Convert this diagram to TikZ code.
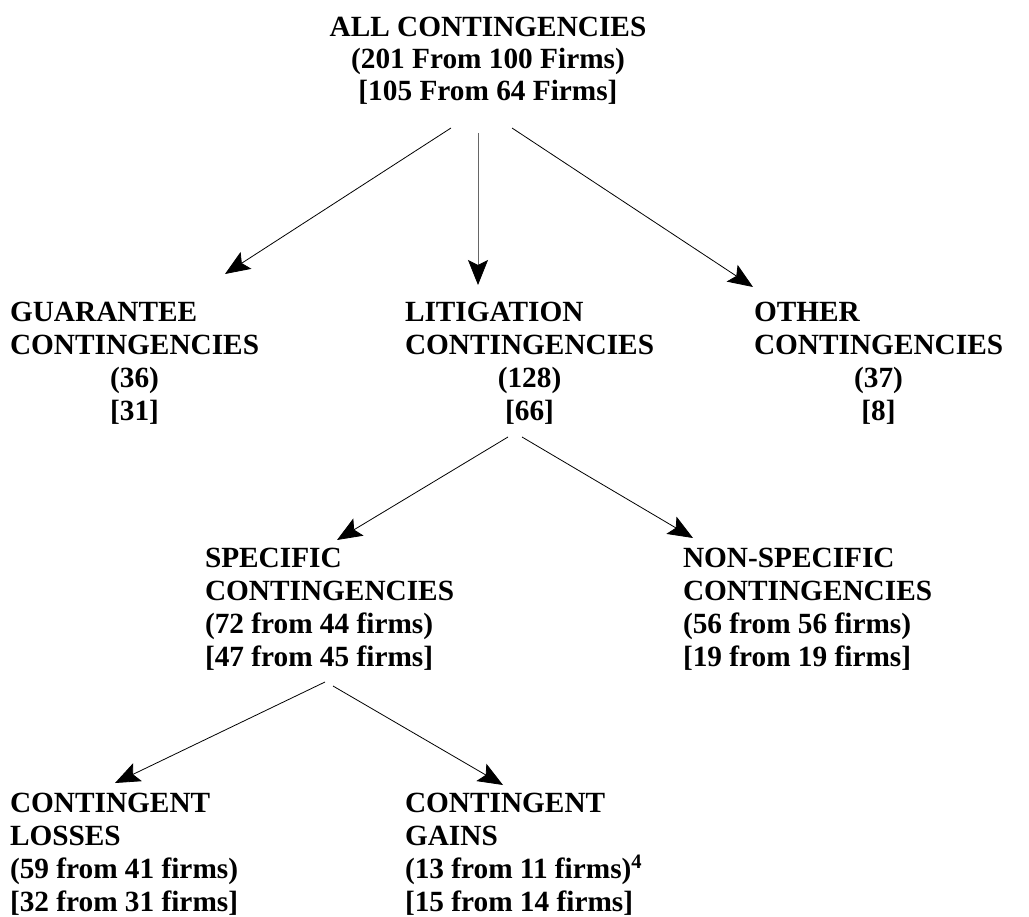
\documentclass[tikz,border=0pt]{standalone}
\usepackage{fontspec}
\setmainfont{Liberation Serif}
\usetikzlibrary{arrows.meta}
\newcommand\mcen[1]{\multicolumn{1}{@{}c@{}}{#1}}
\tikzset{
  lbl/.style={inner sep=0pt, outer sep=0pt, anchor=base west, font=\fontsize{29.3}{33}\selectfont\bfseries},
  arr/.style={line width=0.8pt, -{Stealth[length=25pt,width=20pt,inset=5pt,color=black]}},
}
\begin{document}
\begin{tikzpicture}[x=1pt,y=-1pt]
\useasboundingbox (0,0) rectangle (1029,917);
\node[lbl, anchor=base, font=\fontsize{29.3}{32}\selectfont\bfseries] (all) at (488,37)
  {\begin{tabular}[t]{@{}c@{}}ALL CONTINGENCIES\\(201 From 100 Firms)\\{[}105 From 64 Firms{]}\end{tabular}};
\node[lbl] (gua) at (10,322)
  {\begin{tabular}[t]{@{}l@{}}GUARANTEE\\CONTINGENCIES\\\mcen{(36)}\\\mcen{[31]}\end{tabular}};
\node[lbl] (lit) at (405,322)
  {\begin{tabular}[t]{@{}l@{}}LITIGATION\\CONTINGENCIES\\\mcen{(128)}\\\mcen{[66]}\end{tabular}};
\node[lbl] (oth) at (754,322)
  {\begin{tabular}[t]{@{}l@{}}OTHER\\CONTINGENCIES\\\mcen{(37)}\\\mcen{[8]}\end{tabular}};
\node[lbl] (spe) at (205,567)
  {\begin{tabular}[t]{@{}l@{}}SPECIFIC\\CONTINGENCIES\\(72 from 44 firms)\\{[}47 from 45 firms{]}\end{tabular}};
\node[lbl] (non) at (683,567)
  {\begin{tabular}[t]{@{}l@{}}NON-SPECIFIC\\CONTINGENCIES\\(56 from 56 firms)\\{[}19 from 19 firms{]}\end{tabular}};
\node[lbl] (los) at (10,812)
  {\begin{tabular}[t]{@{}l@{}}CONTINGENT\\LOSSES\\(59 from 41 firms)\\{[}32 from 31 firms{]}\end{tabular}};
\node[lbl] (gai) at (405,812)
  {\begin{tabular}[t]{@{}l@{}}CONTINGENT\\GAINS\\(13 from 11 firms)\textsuperscript{4}\\{[}15 from 14 firms{]}\end{tabular}};

\draw[arr] ([shift={(-37,17.4)}]all.south) -- ([shift={(215,-24.9)}]gua.north west);
\draw[arr, black!60] ([shift={(-10,22.4)}]all.south) -- ([shift={(73,-13.9)}]lit.north west);
\draw[arr] ([shift={(24,17.4)}]all.south) -- ([shift={(-1,-11.9)}]oth.north west);
\draw[arr] ([shift={(103,6.1)}]lit.south west) -- ([shift={(132,-3.9)}]spe.north west);
\draw[arr] ([shift={(117,6.1)}]lit.south west) -- ([shift={(10,-5.9)}]non.north west);
\draw[arr] ([shift={(120,6.1)}]spe.south west) -- ([shift={(105,-5.9)}]los.north west);
\draw[arr] ([shift={(128,10.1)}]spe.south west) -- ([shift={(98,-3.9)}]gai.north west);
\end{tikzpicture}
\end{document}
